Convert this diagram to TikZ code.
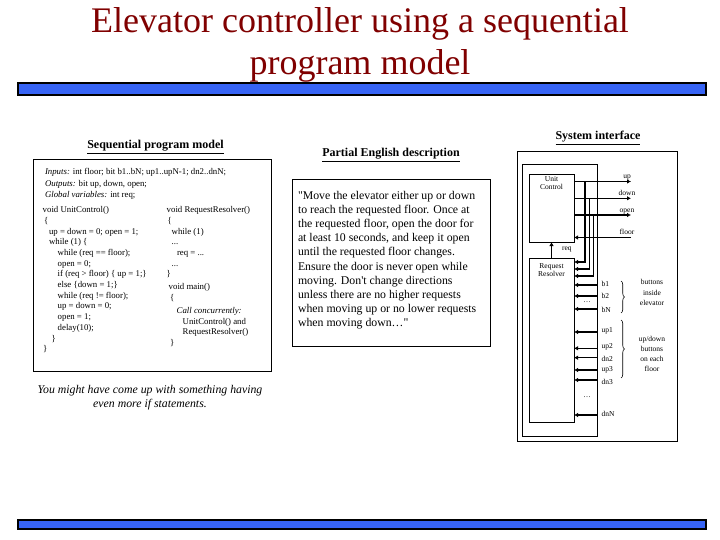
\documentclass[tikz,border=0pt]{standalone}
\usepackage{fontspec}
\setmainfont{Liberation Serif}
\newfontfamily\qfam{Liberation Serif}
\usetikzlibrary{arrows.meta,decorations.pathreplacing}
\definecolor{titlered}{RGB}{128,0,0}
\definecolor{barblue}{RGB}{55,100,245}
\tikzset{
  frame/.style={draw, line width=0.8pt},
  bar/.style={draw=black, line width=2pt, fill=barblue},
  conn/.style={line width=1.5pt},
  arr/.style={-{Latex[length=4pt,width=4.5pt]}},
  small/.style={font=\fontsize{7.5}{8.5}\selectfont},
  head/.style={font=\fontsize{12}{14}\selectfont\bfseries},
  codefont/.style={font=\fontsize{8.8}{10.7}\selectfont, align=left},
  quotefont/.style={font=\qfam\fontsize{11.8}{14.2}\selectfont, align=left},
  titlefont/.style={font=\fontsize{36}{42}\selectfont, text=titlered},
}
\begin{document}
\begin{tikzpicture}[x=1pt,y=-1pt, every node/.style={inner sep=0pt, outer sep=0pt}]
\useasboundingbox (0,0) rectangle (720,540);

% title
\node[titlefont, anchor=base] (title1) at (360,33) {Elevator controller using a sequential};
\node[titlefont, anchor=base] (title2) at (360,75) {program model};

% bars
\draw[bar] (18,83) rectangle (706,95);
\draw[bar] (18,520) rectangle (706,529);

% ---------- left panel ----------
\node[head] (h1) at (155.5,147) {\underline{Sequential program model}};
\draw[frame] (33,159) rectangle (271,371);
\node[font=\fontsize{8.8}{11.5}\selectfont, align=left, anchor=north west] (decl) at (45,168.5) {%
\textit{Inputs:} int floor; bit b1..bN; up1..upN-1; dn2..dnN;\\
\textit{Outputs:} bit up, down, open;\\
\textit{Global variables:} int req;};
\node[codefont, anchor=north west] (ucode) at (42.7,206.5) {%
void UnitControl()\\
\hspace*{1.3pt}\{\\
\hspace*{6.3pt}up = down = 0; open = 1;\\
\hspace*{6.3pt}while (1) \{\\
\hspace*{15pt}while (req == floor);\\
\hspace*{15pt}open = 0;\\
\hspace*{15pt}if (req > floor) \{ up = 1;\}\\
\hspace*{15pt}else \{down = 1;\}\\
\hspace*{15pt}while (req != floor);\\
\hspace*{15pt}up = down = 0;\\
\hspace*{15pt}open = 1;\\
\hspace*{15pt}delay(10);\\
\hspace*{9pt}\}\\
\hspace*{0.3pt}\}};
\node[codefont, anchor=north west] (rcode) at (166.7,206.5) {%
void RequestResolver()\\
\hspace*{1pt}\{\\
\hspace*{5pt}while (1)\\
\hspace*{5pt}...\\
\hspace*{10.3pt}req = ...\\
\hspace*{5pt}...\\
\}\\[2pt]
\hspace*{2pt}void main()\\
\hspace*{3.3pt}\{\\[2.5pt]
\hspace*{10pt}\textit{Call concurrently:}\\
\hspace*{16pt}UnitControl() and\\
\hspace*{16pt}RequestResolver()\\
\hspace*{3.3pt}\}};
\node[font=\fontsize{11.8}{14}\selectfont\itshape, align=center] (note) at (150,398) {You might have come up with something having\\even more if statements.};

% ---------- middle panel ----------
\node[head] (h2) at (391,155) {\underline{Partial English description}};
\draw[frame] (292,179) rectangle (490,346);
\node[quotefont, anchor=north west] (quote) at (298,191) {%
"Move the elevator either up or down\\
to reach the requested floor. Once at\\
the requested floor, open the door for\\
at least 10 seconds, and keep it open\\
until the requested floor changes.\\
Ensure the door is never open while\\
moving. Don't change directions\\
unless there are no higher requests\\
when moving up or no lower requests\\
when moving down\ldots"};

% ---------- system interface ----------
\node[head] (h3) at (598,138) {\underline{System interface}};
\draw[frame] (517,151) rectangle (677,441);
\draw[frame] (522,164) rectangle (597,436);

\node[frame, minimum width=45pt, minimum height=68pt] (uc) at (551.5,208) {};
\node[small, align=center] (uct) at (551.5,183) {Unit\\Control};
\node[frame, minimum width=45pt, minimum height=164pt] (rr) at (551.5,340) {};
\node[small, align=center] (rrt) at (551.5,270) {Request\\Resolver};

% outputs of unit control
\coordinate (upE) at (631,181.5);
\coordinate (dnE) at (631,198.3);
\coordinate (opE) at (631,215);
\coordinate (flE) at (631,237.5);
\draw[conn,arr] (uc.east |- upE) -- (upE);
\draw[conn,arr] (uc.east |- dnE) -- (dnE);
\draw[conn,arr] (uc.east |- opE) -- (opE);
\draw[conn,arr] (flE) -- (uc.east |- flE);
\node[small, anchor=base] (lup) at (627,178.8) {up};
\node[small, anchor=base] (ldown) at (627,195.8) {down};
\node[small, anchor=base] (lopen) at (627,212.5) {open};
\node[small, anchor=base] (lfloor) at (627,234.8) {floor};

% branches into request resolver
\coordinate (bu0) at (585,181.5);   \coordinate (bu1) at (585,262);
\coordinate (bd0) at (589.5,198.3); \coordinate (bd1) at (589.5,269);
\coordinate (bo0) at (593.5,215);   \coordinate (bo1) at (593.5,276);
\draw[conn,arr] (bu0) -- (bu1) -- (rr.east |- bu1);
\draw[conn,arr] (bd0) -- (bd1) -- (rr.east |- bd1);
\draw[conn,arr] (bo0) -- (bo1) -- (rr.east |- bo1);

% req
\draw[conn,arr] (rr.north) -- (uc.south);
\node[small, anchor=west] (lreq) at (562,249.5) {req};

% button inputs
\coordinate (cb1) at (597,285);
\coordinate (cb2) at (597,296);
\coordinate (cbN) at (597,309);
\coordinate (cu1) at (597,332);
\coordinate (cu2) at (597,348.3);
\coordinate (cd2) at (597,357.7);
\coordinate (cu3) at (597,370);
\coordinate (cd3) at (597,380);
\coordinate (cdN) at (597,415);
\foreach \c in {cb1,cb2,cbN,cu1,cu2,cd2,cu3,cd3,cdN}
  \draw[conn,arr] (\c) -- (rr.east |- \c);
\node[small, anchor=west] (lb1) at (601.5,284) {b1};
\node[small, anchor=west] (lb2) at (601.5,295.5) {b2};
\node[small, anchor=west] (lbN) at (601.5,310) {bN};
\node[small, anchor=west] (lu1) at (601.5,331) {up1};
\node[small, anchor=west] (lu2) at (601.5,346.5) {up2};
\node[small, anchor=west] (ld2) at (601.5,359) {dn2};
\node[small, anchor=west] (lu3) at (601.5,369.5) {up3};
\node[small, anchor=west] (ld3) at (601.5,381.5) {dn3};
\node[small, anchor=west] (ldN) at (601.5,414) {dnN};
\node[small] (dots1) at (587,302) {\ldots};
\node[small] (dots2) at (587,397) {\ldots};

% braces
\draw[line width=0.6pt, decorate, decoration={brace, amplitude=3.5pt}] (621,281) -- (621,313);
\draw[line width=0.6pt, decorate, decoration={brace, amplitude=3.5pt}] (621,320) -- (621,378);
\node[small, align=center, font=\fontsize{7.5}{10.8}\selectfont] (bt1) at (652,292.5) {buttons\\inside\\elevator};
\node[small, align=center, font=\fontsize{7.5}{10.2}\selectfont] (bt2) at (652,354) {up/down\\buttons\\on each\\floor};
\end{tikzpicture}
\end{document}
